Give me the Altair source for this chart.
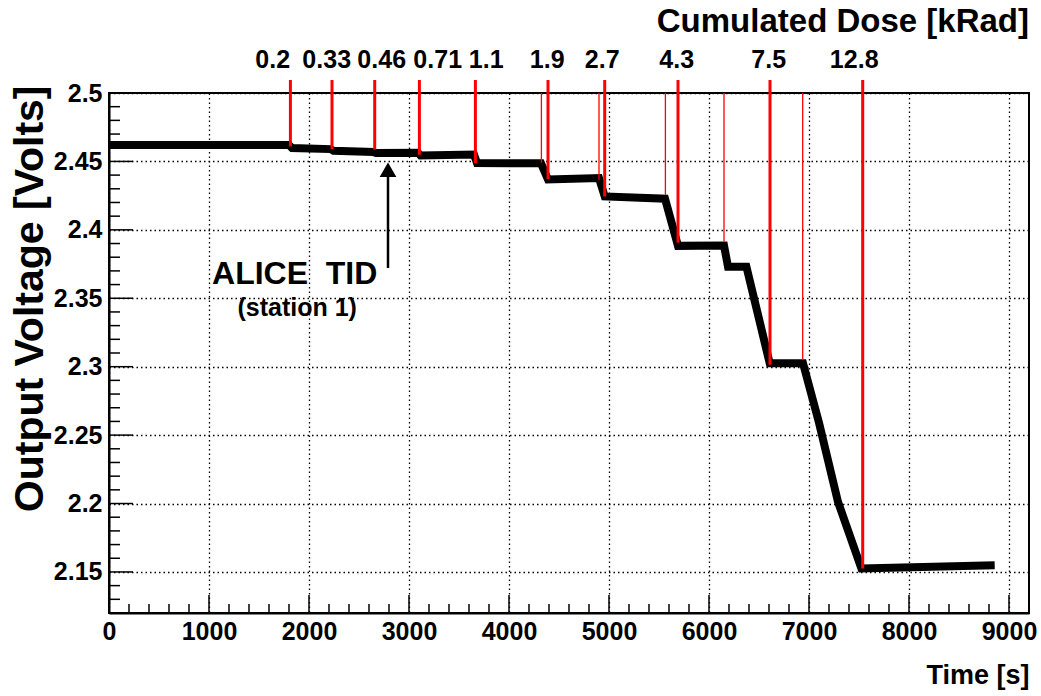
import altair as alt
import pandas as pd

# ---- data ----
time_s = [0, 1800, 1830, 2215, 2245, 2645, 2670, 3090, 3115, 3650, 3680, 4320, 4390,
          4900, 4957, 5560, 5690, 6150, 6190, 6374, 6607, 6940, 7100, 7290, 7524, 8857]
voltage = [2.4620, 2.4620, 2.4598, 2.4590, 2.4578, 2.4569, 2.4561, 2.4564, 2.4544,
           2.4550, 2.4488, 2.4486, 2.4368, 2.4378, 2.4244, 2.4228, 2.3883, 2.3886,
           2.3731, 2.3731, 2.3025, 2.3025, 2.2590, 2.2012, 2.1525, 2.1549]

dose_labels = ["0.2", "0.33", "0.46", "0.71", "1.1", "1.9", "2.7", "4.3", "7.5", "12.8"]
dose_time = [1814, 2230, 2657, 3104, 3664, 4390, 4957, 5690, 6610, 7537]
dose_level = [2.4610, 2.4590, 2.4586, 2.4549, 2.4488, 2.4371, 2.4244, 2.3906, 2.3014, 2.1525]
dose_label_time = [1637, 2177, 2727, 3287, 3772, 4382, 4932, 5677, 6597, 7452]

start_time = [4324, 4900, 5564, 6150, 6937]
start_level = [2.4490, 2.4366, 2.4257, 2.3915, 2.3050]

x_major = [0, 1000, 2000, 3000, 4000, 5000, 6000, 7000, 8000, 9000]
x_minor = [t for t in range(200, 9200, 200) if t % 1000 != 0]
y_major = [2.15, 2.2, 2.25, 2.3, 2.35, 2.4, 2.45, 2.5]
y_minor = [2.13, 2.14, 2.16, 2.17, 2.18, 2.19, 2.21, 2.22, 2.23, 2.24, 2.26, 2.27,
           2.28, 2.29, 2.31, 2.32, 2.33, 2.34, 2.36, 2.37, 2.38, 2.39, 2.41, 2.42,
           2.43, 2.44, 2.46, 2.47, 2.48, 2.49]

arrow_x = [2790]
arrow_tail = [2.3721]
arrow_neck = [2.4403]
arrow_head = [2.4439]

W, H = 920, 520
FONT = "Liberation Sans"
xs = alt.Scale(domain=[0, 9200], nice=False, zero=False)
ys = alt.Scale(domain=[2.12, 2.5], nice=False, zero=False)

curve_df = pd.DataFrame({"t": time_s, "v": voltage})
dose_df = pd.DataFrame({"t": dose_time, "v": dose_level, "lt": dose_label_time, "label": dose_labels})
start_df = pd.DataFrame({"t": start_time, "v": start_level})
xmaj_df = pd.DataFrame({"t": x_major})
xmin_df = pd.DataFrame({"t": x_minor})
ymaj_df = pd.DataFrame({"v": y_major})
ymin_df = pd.DataFrame({"v": y_minor})
arrow_df = pd.DataFrame({"t": arrow_x, "v0": arrow_tail, "v1": arrow_neck, "vh": arrow_head})

x_axis = alt.Axis(
    values=x_major, format="d", grid=True, gridColor="black", gridDash=[1.5, 3], gridWidth=1.3,
    gridOpacity=1, domain=True, domainColor="black", domainWidth=2, ticks=False,
    labelFont=FONT, labelFontSize=25, labelFontWeight="bold", labelColor="black",
    labelPadding=6, labelFlush=False, labelOverlap=False,
    title="Time [s]", titleFont=FONT, titleFontSize=27, titleFontWeight="bold",
    titleColor="black", titleX=920, titleY=70, titleAlign="right",
    titleBaseline="alphabetic", titleAnchor="end",
)
y_axis = alt.Axis(
    values=y_major, format=".2~f", grid=True, gridColor="black", gridDash=[1.5, 3], gridWidth=1.3,
    gridOpacity=1, domain=True, domainColor="black", domainWidth=2, ticks=False,
    labelFont=FONT, labelFontSize=25, labelFontWeight="bold", labelColor="black",
    labelPadding=7, labelFlush=False, labelOverlap=False,
    title="Output Voltage [Volts]", titleFont=FONT, titleFontSize=41, titleFontWeight="bold",
    titleColor="black", titleAngle=270, titleX=-67, titleY=-8, titleAlign="right",
    titleBaseline="alphabetic", titleAnchor="end",
)

curve = alt.Chart(curve_df).mark_line(color="black", strokeWidth=8).encode(
    x=alt.X("t:Q", scale=xs, axis=x_axis),
    y=alt.Y("v:Q", scale=ys, axis=y_axis),
)

thick_red = alt.Chart(dose_df).mark_rule(color="#ff0000", strokeWidth=3).encode(
    x=alt.X("t:Q", scale=xs, axis=None),
    y=alt.Y("v:Q", scale=ys, axis=None),
    y2=alt.value(-13),
)
thin_red = alt.Chart(start_df).mark_rule(color="#ff0000", strokeWidth=1.3).encode(
    x=alt.X("t:Q", scale=xs, axis=None),
    y=alt.Y("v:Q", scale=ys, axis=None),
    y2=alt.value(0),
)

dose_text = alt.Chart(dose_df).mark_text(
    font=FONT, fontSize=25, fontWeight="bold", color="black", baseline="alphabetic", align="center"
).encode(
    x=alt.X("lt:Q", scale=xs, axis=None),
    y=alt.value(-25),
    text="label:N",
)

dose_title = alt.Chart(pd.DataFrame({"s": ["Cumulated Dose [kRad]"]})).mark_text(
    font=FONT, fontSize=33, fontWeight="bold", color="black", baseline="alphabetic", align="right"
).encode(x=alt.value(W), y=alt.value(-61), text="s:N")

xmaj_ticks = alt.Chart(xmaj_df).mark_rule(color="black", strokeWidth=1.5).encode(
    x=alt.X("t:Q", scale=xs, axis=None), y=alt.value(H - 18), y2=alt.value(H))
xmin_ticks = alt.Chart(xmin_df).mark_rule(color="black", strokeWidth=1.5).encode(
    x=alt.X("t:Q", scale=xs, axis=None), y=alt.value(H - 9), y2=alt.value(H))
ymaj_ticks = alt.Chart(ymaj_df).mark_rule(color="black", strokeWidth=1.5).encode(
    y=alt.Y("v:Q", scale=ys, axis=None), x=alt.value(0), x2=alt.value(24))
ymin_ticks = alt.Chart(ymin_df).mark_rule(color="black", strokeWidth=1.5).encode(
    y=alt.Y("v:Q", scale=ys, axis=None), x=alt.value(0), x2=alt.value(11))

shaft = alt.Chart(arrow_df).mark_rule(color="black", strokeWidth=2.5).encode(
    x=alt.X("t:Q", scale=xs, axis=None),
    y=alt.Y("v0:Q", scale=ys, axis=None),
    y2="v1:Q",
)
head = alt.Chart(arrow_df).mark_point(shape="triangle-up", filled=True, color="black",
                                      size=280, opacity=1).encode(
    x=alt.X("t:Q", scale=xs, axis=None),
    y=alt.Y("vh:Q", scale=ys, axis=None),
)

ann_df = pd.DataFrame({
    "t": [1857, 1882],
    "v": [2.3606, 2.3367],
    "s": ["ALICE\u00a0 TID", "(station 1)"],
})
ann1 = alt.Chart(ann_df.iloc[[0]]).mark_text(
    font=FONT, fontSize=32, fontWeight="bold", color="black", baseline="alphabetic", align="center"
).encode(x=alt.X("t:Q", scale=xs, axis=None), y=alt.Y("v:Q", scale=ys, axis=None), text="s:N")
ann2 = alt.Chart(ann_df.iloc[[1]]).mark_text(
    font=FONT, fontSize=25, fontWeight="bold", color="black", baseline="alphabetic", align="center"
).encode(x=alt.X("t:Q", scale=xs, axis=None), y=alt.Y("v:Q", scale=ys, axis=None), text="s:N")

chart = alt.layer(
    curve, xmin_ticks, xmaj_ticks, ymin_ticks, ymaj_ticks,
    thin_red, thick_red, dose_text, dose_title, shaft, head, ann1, ann2,
).resolve_axis(x="independent", y="independent").properties(
    width=W, height=H,
    autosize=alt.AutoSizeParams(type="none"),
    padding={"left": 109, "top": 93, "right": 12, "bottom": 83},
    background="white",
).configure_view(stroke="black", strokeWidth=2)

chart.save("out.html", embed_options={"renderer": "svg", "actions": False})
